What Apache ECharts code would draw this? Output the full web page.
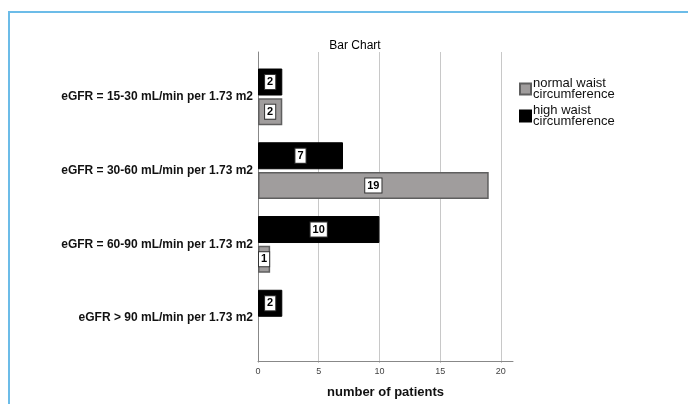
<!DOCTYPE html>
<html>
<head>
<meta charset="utf-8">
<script src="https://cdn.jsdelivr.net/npm/echarts@6/dist/echarts.min.js"></script>
<style>html,body{margin:0;padding:0;background:#fff}#c{width:688px;height:404px}</style>
</head>
<body>
<div id="c"></div>
<script>
const categories = ['eGFR = 15-30 mL/min per 1.73 m2', 'eGFR = 30-60 mL/min per 1.73 m2', 'eGFR = 60-90 mL/min per 1.73 m2', 'eGFR > 90 mL/min per 1.73 m2'];
const normalWaist = [2, 19, 1, 0];
const highWaist = [2, 7, 10, 2];
const seriesNames = ['normal waist\ncircumference', 'high waist\ncircumference'];
const xTicks = [0, 5, 10, 15, 20];

const chart = echarts.init(document.getElementById('c'), null, {renderer: 'canvas'});
const FONT = 'Liberation Sans';
const labelStyle = {
  show: true, position: 'inside', color: '#000', fontFamily: FONT, fontWeight: 'bold', fontSize: 11,
  backgroundColor: '#fff', borderColor: '#333', borderWidth: 1, padding: [2, 2, 1, 2]
};
const toItems = arr => arr.map(v => v ? v : {value: v, label: {show: false}, itemStyle: {borderWidth: 0, opacity: 0}});
chart.setOption({
  animation: false,
  title: {text: 'Bar Chart', left: 350, top: 35, textAlign: 'center',
    textStyle: {fontFamily: FONT, fontSize: 12, fontWeight: 'normal', color: '#000'}},
  legend: {
    orient: 'vertical', left: 514, top: 72, itemWidth: 11, itemHeight: 11, itemGap: 3, icon: 'rect',
    data: seriesNames,
    textStyle: {fontFamily: FONT, fontSize: 13, color: '#111', lineHeight: 11, padding: [0, 0, 0, -3]}
  },
  graphic: [
    {type: 'polyline', shape: {points: [[9, 404], [9, 12], [688, 12]]}, style: {stroke: '#6cbce8', lineWidth: 2, fill: null}}
  ],
  grid: [
    {left: 258, top: 52, width: 255, height: 311, containLabel: false},
    {left: 258, top: 52, width: 242.86, height: 311, containLabel: false},
    {left: 258, top: 60, width: 255, height: 295, containLabel: false}
  ],
  xAxis: [
    {gridIndex: 0, type: 'value', min: 0, max: 21, interval: 5,
      axisLine: {show: true, lineStyle: {color: '#888', width: 1}}, axisTick: {show: false},
      splitLine: {show: false},
      axisLabel: {showMaxLabel: false, fontFamily: FONT, fontSize: 9, color: '#444', margin: 6,
        formatter: v => (xTicks.includes(v) ? String(v) : '')},
      name: 'number of patients', nameLocation: 'middle', nameGap: 25,
      nameTextStyle: {fontFamily: FONT, fontSize: 13, fontWeight: 'bold', color: '#111'}},
    {gridIndex: 1, type: 'value', min: 0, max: 20, interval: 5,
      axisLine: {show: false}, axisTick: {show: false}, axisLabel: {show: false},
      splitLine: {show: true, lineStyle: {color: '#c8c8c8', width: 1}}},
    {gridIndex: 2, type: 'value', min: 0, max: 21, show: false, splitLine: {show: false}}
  ],
  yAxis: [
    {gridIndex: 0, type: 'category', data: categories, axisLabel: {show: false}, axisTick: {show: false},
      axisLine: {show: true, lineStyle: {color: '#888', width: 1}}},
    {gridIndex: 1, type: 'category', data: categories, show: false},
    {gridIndex: 2, type: 'category', data: categories, inverse: true,
      axisLine: {show: false}, axisTick: {show: false},
      axisLabel: {fontFamily: FONT, fontSize: 12, fontWeight: 'bold', color: '#111', margin: 5}}
  ],
  series: [
    {name: seriesNames[1], type: 'bar', xAxisIndex: 2, yAxisIndex: 2, data: toItems(highWaist),
      barWidth: 27, barGap: '10%',
      itemStyle: {color: '#000', borderColor: '#000', borderWidth: 1},
      label: labelStyle},
    {name: seriesNames[0], type: 'bar', xAxisIndex: 2, yAxisIndex: 2, data: toItems(normalWaist),
      barWidth: 27, barGap: '10%',
      itemStyle: {color: '#a09d9d', borderColor: '#5f5f5f', borderWidth: 1.5},
      label: labelStyle}
  ]
});
</script>
</body>
</html>
